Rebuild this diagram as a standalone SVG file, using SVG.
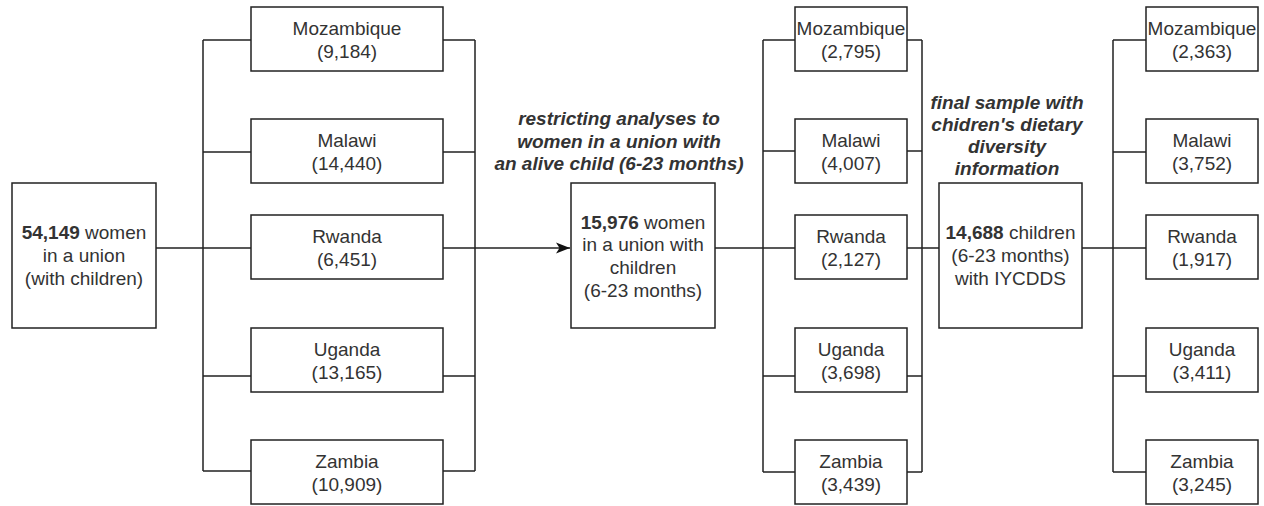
<svg xmlns="http://www.w3.org/2000/svg" width="1264" height="506" viewBox="0 0 1264 506">
<defs>
<style>
.box{fill:#fff;stroke:#222;stroke-width:1.5}
.ln{fill:none;stroke:#222;stroke-width:1.5}
text{font-family:"Liberation Sans",Arial,sans-serif;font-size:19px;fill:#333;text-anchor:middle}
.lbl{font-weight:bold;font-style:italic}
.b{font-weight:bold}
</style>
<marker id="arr" markerUnits="userSpaceOnUse" markerWidth="16" markerHeight="14" refX="14" refY="6" orient="auto">
<path d="M14,6 L0,0.6 L3.5,6 L0,11.4 Z" fill="#111"/>
</marker>
</defs>
<rect width="1264" height="506" fill="#fff"/>
<g id="connectors">
<path class="ln" d="M156,248 H203 M203,40 V471 M203,40 H251 M203,152 H251 M203,248 H251 M203,376 H251 M203,471 H251"/>
<path class="ln" d="M443,40 H475 M443,152 H475 M443,248 H475 M443,376 H475 M443,471 H475 M475,40 V471"/>
<path class="ln" d="M475,248 H570" marker-end="url(#arr)"/>
<path class="ln" d="M715,248 H795 M763,40 V472 M763,40 H795 M763,151 H795 M763,376 H795 M763,472 H795"/>
<path class="ln" d="M907,40 H922 M907,151 H922 M907,248 H939 M907,376 H922 M907,472 H922 M922,40 V472"/>
<path class="ln" d="M1082,248 H1146 M1113,40 V472 M1113,40 H1146 M1113,152 H1146 M1113,376 H1146 M1113,472 H1146"/>
</g>
<g id="labels">
<text class="lbl"><tspan x="619" y="125">restricting analyses to</tspan><tspan x="619" y="147.5">women in a union with</tspan><tspan x="619" y="170">an alive child (6-23 months)</tspan></text>
<text class="lbl"><tspan x="1007" y="108.5">final sample with</tspan><tspan x="1007" y="131">chidren's dietary</tspan><tspan x="1007" y="153">diversity</tspan><tspan x="1007" y="175">information</tspan></text>
</g>
<g id="start">
<rect class="box" x="12" y="183" width="144" height="145"/>
<text><tspan x="84" y="239"><tspan class="b">54,149</tspan> women</tspan><tspan x="84" y="261.8">in a union</tspan><tspan x="84" y="284.6">(with children)</tspan></text>
</g>
<g id="c1-mozambique"><rect class="box" x="251" y="7" width="192" height="64"/><text><tspan x="347" y="35.3">Mozambique</tspan><tspan x="347" y="58.1">(9,184)</tspan></text></g>
<g id="c1-malawi"><rect class="box" x="251" y="119" width="192" height="64"/><text><tspan x="347" y="147.3">Malawi</tspan><tspan x="347" y="170.1">(14,440)</tspan></text></g>
<g id="c1-rwanda"><rect class="box" x="251" y="215" width="192" height="64"/><text><tspan x="347" y="243.3">Rwanda</tspan><tspan x="347" y="266.1">(6,451)</tspan></text></g>
<g id="c1-uganda"><rect class="box" x="251" y="328" width="192" height="64"/><text><tspan x="347" y="356.3">Uganda</tspan><tspan x="347" y="379.1">(13,165)</tspan></text></g>
<g id="c1-zambia"><rect class="box" x="251" y="440" width="192" height="64"/><text><tspan x="347" y="468.3">Zambia</tspan><tspan x="347" y="491.1">(10,909)</tspan></text></g>
<g id="middle">
<rect class="box" x="571" y="183" width="144" height="145"/>
<text><tspan x="643" y="228.6"><tspan class="b">15,976</tspan> women</tspan><tspan x="643" y="251.4">in a union with</tspan><tspan x="643" y="274.2">children</tspan><tspan x="643" y="297">(6-23 months)</tspan></text>
</g>
<g id="c2-mozambique"><rect class="box" x="795" y="7" width="112" height="64"/><text><tspan x="851" y="35.3">Mozambique</tspan><tspan x="851" y="58.1">(2,795)</tspan></text></g>
<g id="c2-malawi"><rect class="box" x="795" y="119" width="112" height="64"/><text><tspan x="851" y="147.3">Malawi</tspan><tspan x="851" y="170.1">(4,007)</tspan></text></g>
<g id="c2-rwanda"><rect class="box" x="795" y="215" width="112" height="64"/><text><tspan x="851" y="243.3">Rwanda</tspan><tspan x="851" y="266.1">(2,127)</tspan></text></g>
<g id="c2-uganda"><rect class="box" x="795" y="328" width="112" height="64"/><text><tspan x="851" y="356.3">Uganda</tspan><tspan x="851" y="379.1">(3,698)</tspan></text></g>
<g id="c2-zambia"><rect class="box" x="795" y="440" width="112" height="64"/><text><tspan x="851" y="468.3">Zambia</tspan><tspan x="851" y="491.1">(3,439)</tspan></text></g>
<g id="final">
<rect class="box" x="939" y="183" width="143" height="145"/>
<text><tspan x="1010.5" y="239"><tspan class="b">14,688</tspan> children</tspan><tspan x="1010.5" y="261.8">(6-23 months)</tspan><tspan x="1010.5" y="284.6">with IYCDDS</tspan></text>
</g>
<g id="c3-mozambique"><rect class="box" x="1146" y="7" width="112" height="64"/><text><tspan x="1202" y="35.3">Mozambique</tspan><tspan x="1202" y="58.1">(2,363)</tspan></text></g>
<g id="c3-malawi"><rect class="box" x="1146" y="119" width="112" height="64"/><text><tspan x="1202" y="147.3">Malawi</tspan><tspan x="1202" y="170.1">(3,752)</tspan></text></g>
<g id="c3-rwanda"><rect class="box" x="1146" y="215" width="112" height="64"/><text><tspan x="1202" y="243.3">Rwanda</tspan><tspan x="1202" y="266.1">(1,917)</tspan></text></g>
<g id="c3-uganda"><rect class="box" x="1146" y="328" width="112" height="64"/><text><tspan x="1202" y="356.3">Uganda</tspan><tspan x="1202" y="379.1">(3,411)</tspan></text></g>
<g id="c3-zambia"><rect class="box" x="1146" y="440" width="112" height="64"/><text><tspan x="1202" y="468.3">Zambia</tspan><tspan x="1202" y="491.1">(3,245)</tspan></text></g>
</svg>
